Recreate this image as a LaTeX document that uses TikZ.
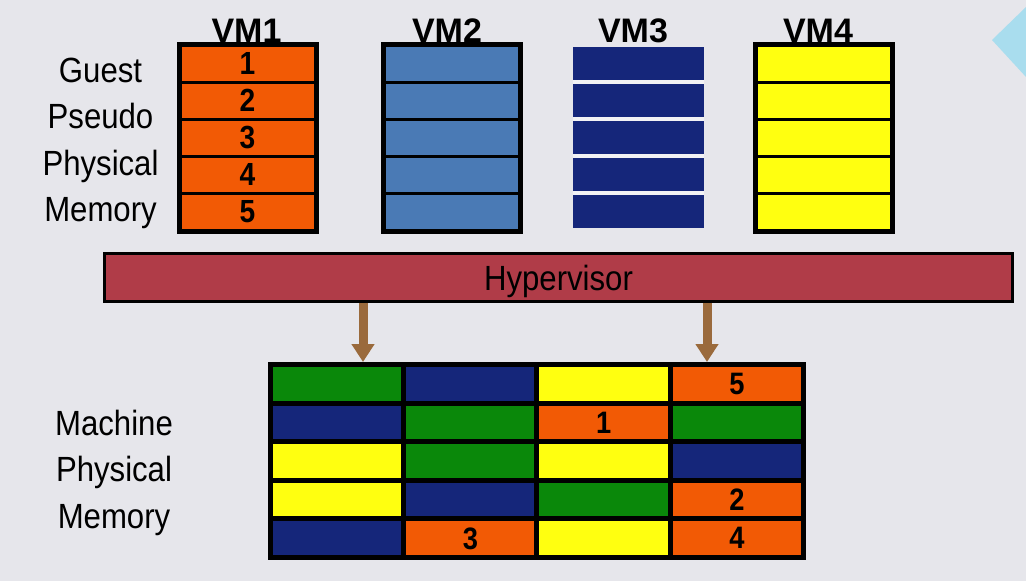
\documentclass[tikz,border=0pt]{standalone}
\usepackage{fontspec}
\setmainfont{Liberation Sans}
\newfontfamily\condfont{Liberation Sans}[FakeStretch=0.89]
\newfontfamily\digitfont{Liberation Sans}[FakeStretch=0.88]
\usetikzlibrary{arrows.meta}
\definecolor{bgC}{HTML}{E6E6EB}
\definecolor{orangeC}{HTML}{F25A05}
\definecolor{steelC}{HTML}{4A7AB5}
\definecolor{navyC}{HTML}{15267A}
\definecolor{yellowC}{HTML}{FFFF10}
\definecolor{greenC}{HTML}{0A880A}
\definecolor{hypC}{HTML}{B03C48}
\definecolor{arrowC}{HTML}{9A6A3C}
\definecolor{decoC}{HTML}{A9DDEE}
\definecolor{gapC}{HTML}{F2F2F5}
\begin{document}
\begin{tikzpicture}[x=1pt,y=-1pt,
  vmrow/.style={draw=black, line width=3pt, minimum width=135pt, minimum height=37pt, inner sep=0pt, text depth=0pt, font=\fontsize{32}{32}\digitfont\bfseries},
  vmthree/.style={fill=navyC, minimum width=131pt, minimum height=33.5pt, inner sep=0pt},
  vmlabel/.style={anchor=base, inner sep=0pt, font=\fontsize{34}{34}\selectfont\bfseries},
  sidelabel/.style={anchor=base, inner sep=0pt, font=\fontsize{35}{35}\condfont},
  cell/.style={draw=black, line width=5pt, minimum width=133.25pt, minimum height=38.6pt, inner sep=0pt, text depth=0pt, font=\fontsize{31}{31}\digitfont\bfseries},
  arr/.style={draw=arrowC, line width=9pt, -{Triangle[width=22pt,length=18pt]}}
]
\useasboundingbox (0,0) rectangle (1026,581);
\fill[bgC] (0,0) rectangle (1026,581);
\fill[decoC] (992,40) -- (1026,7) -- (1026,77) -- cycle;

% VM labels
\node[vmlabel] (vm1) at (246.5,42) {VM1};
\node[vmlabel] (vm2) at (447,42) {VM2};
\node[vmlabel] (vm3) at (633,42) {VM3};
\node[vmlabel] (vm4) at (818,42) {VM4};

% Guest pseudo physical memory label
\node[sidelabel] (gl1) at (100.5,82) {Guest};
\node[sidelabel] (gl2) at (100.5,128) {Pseudo};
\node[sidelabel] (gl3) at (100.5,175) {Physical};
\node[sidelabel] (gl4) at (100.5,221) {Memory};

% VM1
\node[vmrow, fill=orangeC] (v1a) at (247.5,63.5) {1};
\node[vmrow, fill=orangeC] (v1b) at (247.5,100.5) {2};
\node[vmrow, fill=orangeC] (v1c) at (247.5,137.5) {3};
\node[vmrow, fill=orangeC] (v1d) at (247.5,174.5) {4};
\node[vmrow, fill=orangeC] (v1e) at (247.5,211.5) {5};
\draw[line width=4pt] (v1a.north west) rectangle (v1e.south east);

% VM2
\node[vmrow, fill=steelC] (v2a) at (452,63.5) {};
\node[vmrow, fill=steelC] (v2b) at (452,100.5) {};
\node[vmrow, fill=steelC] (v2c) at (452,137.5) {};
\node[vmrow, fill=steelC] (v2d) at (452,174.5) {};
\node[vmrow, fill=steelC] (v2e) at (452,211.5) {};
\draw[line width=4pt] (v2a.north west) rectangle (v2e.south east);

% VM3
\fill[gapC] (573,64) rectangle (704,211);
\node[vmthree] (v3a) at (638.5,63.5) {};
\node[vmthree] (v3b) at (638.5,100.5) {};
\node[vmthree] (v3c) at (638.5,137.5) {};
\node[vmthree] (v3d) at (638.5,174.5) {};
\node[vmthree] (v3e) at (638.5,211.5) {};

% VM4
\node[vmrow, fill=yellowC] (v4a) at (824,63.5) {};
\node[vmrow, fill=yellowC] (v4b) at (824,100.5) {};
\node[vmrow, fill=yellowC] (v4c) at (824,137.5) {};
\node[vmrow, fill=yellowC] (v4d) at (824,174.5) {};
\node[vmrow, fill=yellowC] (v4e) at (824,211.5) {};
\draw[line width=4pt] (v4a.north west) rectangle (v4e.south east);

% Hypervisor
\node[draw=black, line width=3.5pt, fill=hypC, minimum width=908pt, minimum height=48pt, inner sep=0pt,
  text depth=0pt, font=\fontsize{35}{35}\condfont] (hyp) at (558.5,277.5) {Hypervisor};

% Machine physical memory
\node[fill=black, minimum width=538pt, minimum height=198pt, inner sep=0pt, anchor=north west] (mpm) at (268,362) {};

\node[cell, fill=greenC]  (c11) at (337.1,383.8) {};
\node[cell, fill=navyC]   (c12) at (470.4,383.8) {};
\node[cell, fill=yellowC] (c13) at (603.6,383.8) {};
\node[cell, fill=orangeC] (c14) at (736.9,383.8) {5};

\node[cell, fill=navyC]   (c21) at (337.1,422.4) {};
\node[cell, fill=greenC]  (c22) at (470.4,422.4) {};
\node[cell, fill=orangeC] (c23) at (603.6,422.4) {1};
\node[cell, fill=greenC]  (c24) at (736.9,422.4) {};

\node[cell, fill=yellowC] (c31) at (337.1,461) {};
\node[cell, fill=greenC]  (c32) at (470.4,461) {};
\node[cell, fill=yellowC] (c33) at (603.6,461) {};
\node[cell, fill=navyC]   (c34) at (736.9,461) {};

\node[cell, fill=yellowC] (c41) at (337.1,499.6) {};
\node[cell, fill=navyC]   (c42) at (470.4,499.6) {};
\node[cell, fill=greenC]  (c43) at (603.6,499.6) {};
\node[cell, fill=orangeC] (c44) at (736.9,499.6) {2};

\node[cell, fill=navyC]   (c51) at (337.1,538.2) {};
\node[cell, fill=orangeC] (c52) at (470.4,538.2) {3};
\node[cell, fill=yellowC] (c53) at (603.6,538.2) {};
\node[cell, fill=orangeC] (c54) at (736.9,538.2) {4};

\node[sidelabel] (ml1) at (114,435) {Machine};
\node[sidelabel] (ml2) at (114,481) {Physical};
\node[sidelabel] (ml3) at (114,528) {Memory};

% Arrows
\coordinate (a1) at (363,330);
\coordinate (a2) at (707,330);
\draw[arr] (a1 |- hyp.south) -- (a1 |- mpm.north);
\draw[arr] (a2 |- hyp.south) -- (a2 |- mpm.north);
\end{tikzpicture}
\end{document}
